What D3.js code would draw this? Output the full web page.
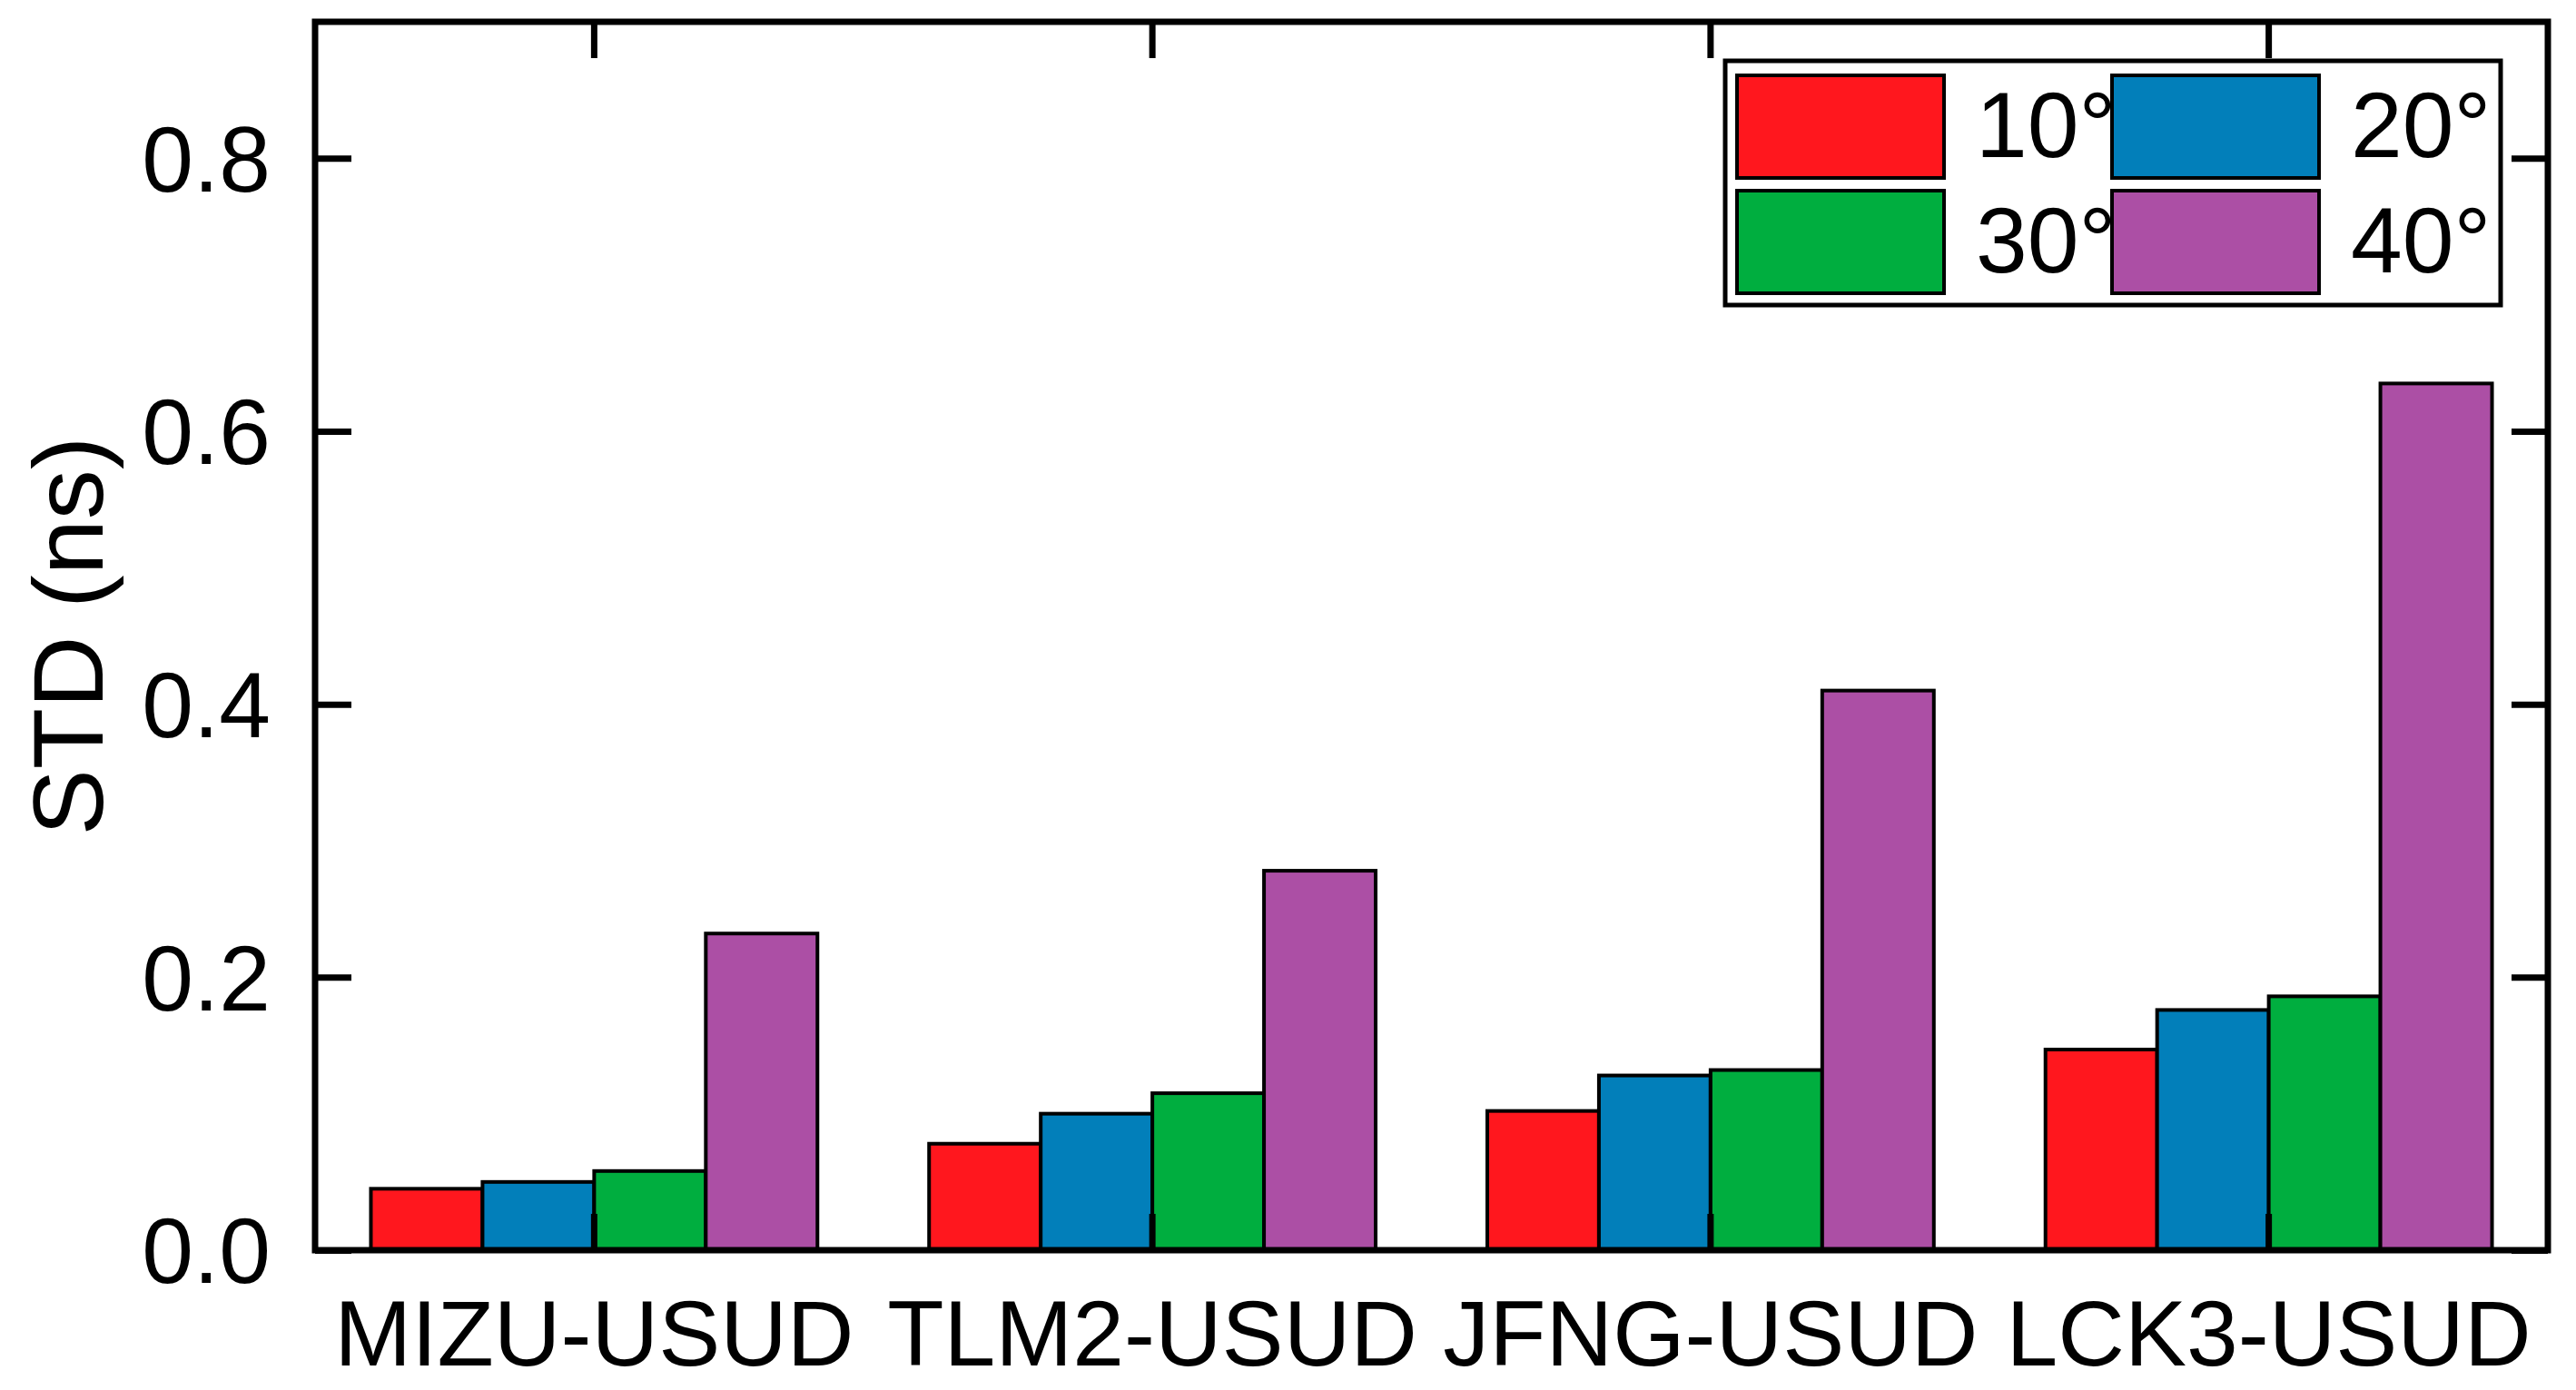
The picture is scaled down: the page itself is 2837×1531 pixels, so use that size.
<!DOCTYPE html>
<html>
<head>
<meta charset="utf-8">
<script src="https://d3js.org/d3.v7.min.js"></script>
<style>
body, html {
    margin: 0;
    padding: 0;
    background: #fff;
    font-family: "Liberation Sans", Arial, sans-serif;
}
.axis text {
  font-family: "Liberation Sans", Arial, sans-serif;
  font-size: 102px;
  fill: #000;
}
.axis line {
  stroke: #000;
  stroke-width: 7;
}
.axis .domain {
  display: none;
}
</style>
</head>
<body>
<div id="chart"></div>
<script>

// station pairs and elevation cut-off angles
var pairs = ["MIZU-USUD", "TLM2-USUD", "JFNG-USUD", "LCK3-USUD"];
var angles = ["10°", "20°", "30°", "40°"];
var colors = ["#ff171e", "#027fba", "#00ae3f", "#ac4fa5"];

// STD (ns) per pair, one array per cut-off angle
var std10 = [0.045, 0.078, 0.102, 0.147];
var std20 = [0.050, 0.100, 0.128, 0.176];
var std30 = [0.058, 0.115, 0.132, 0.186];
var std40 = [0.232, 0.278, 0.410, 0.635];

var yTicks = [0.0, 0.2, 0.4, 0.6, 0.8];

var series = [std10, std20, std30, std40];

var width = 2837,
    height = 1531;
// plot frame (window.top is read-only, so no plain "top" here)
var plotL = 347, plotR = 2806, plotT = 24, plotB = 1377;

var svg = d3.select('#chart').append('svg')
  .attr('width', width)
  .attr('height', height);

var x = d3.scaleBand()
  .domain(pairs)
  .range([plotL, plotR])
  .paddingInner(0.2)
  .paddingOuter(0.1);

var xSub = d3.scaleBand()
  .domain(angles)
  .range([0, x.bandwidth()])
  .padding(0);

var y = d3.scaleLinear()
  .domain([0, 0.9])
  .range([plotB, plotT]);

// bars
var groups = svg.append('g').selectAll('g')
  .data(pairs)
  .enter().append('g')
  .attr('transform', function(d) { return 'translate(' + x(d) + ',0)'; });

groups.selectAll('rect')
  .data(function(d, i) {
    return angles.map(function(a, j) { return {angle: a, value: series[j][i], k: j}; });
  })
  .enter().append('rect')
  .attr('x', function(d) { return xSub(d.angle); })
  .attr('y', function(d) { return y(d.value); })
  .attr('width', xSub.bandwidth())
  .attr('height', function(d) { return y(0) - y(d.value); })
  .attr('fill', function(d) { return colors[d.k]; })
  .attr('stroke', '#000')
  .attr('stroke-width', 4);

// axes, ticks all pointing inward
var fmt = d3.format('.1f');

svg.append('g')
  .attr('class', 'axis')
  .attr('transform', 'translate(' + plotL + ',0)')
  .call(d3.axisLeft(y).tickValues(yTicks).tickFormat(fmt).tickSizeInner(-40).tickSizeOuter(0).tickPadding(49))
  .selectAll('text').attr('dy', '0.35em');

svg.append('g')
  .attr('class', 'axis')
  .attr('transform', 'translate(' + plotR + ',0)')
  .call(d3.axisRight(y).tickValues(yTicks).tickFormat('').tickSizeInner(-40).tickSizeOuter(0));

svg.append('g')
  .attr('class', 'axis')
  .attr('transform', 'translate(0,' + plotB + ')')
  .call(d3.axisBottom(x).tickSizeInner(-40).tickSizeOuter(0).tickPadding(55));

svg.append('g')
  .attr('class', 'axis')
  .attr('transform', 'translate(0,' + plotT + ')')
  .call(d3.axisTop(x).tickFormat('').tickSizeInner(-40).tickSizeOuter(0));

// frame
svg.append('rect')
  .attr('x', plotL)
  .attr('y', plotT)
  .attr('width', plotR - plotL)
  .attr('height', plotB - plotT)
  .attr('fill', 'none')
  .attr('stroke', '#000')
  .attr('stroke-width', 7);

// y label
svg.append('text')
  .attr('transform', 'translate(113,' + ((plotT + plotB) / 2) + ') rotate(-90)')
  .attr('text-anchor', 'middle')
  .style('font-size', '110px')
  .text('STD (ns)');

// legend, 2 x 2
var legend = svg.append('g');
legend.append('rect')
  .attr('x', 1900)
  .attr('y', 67)
  .attr('width', 854)
  .attr('height', 269)
  .attr('fill', '#fff')
  .attr('stroke', '#000')
  .attr('stroke-width', 5);

var items = legend.selectAll('g.item')
  .data(angles)
  .enter().append('g')
  .attr('class', 'item')
  .attr('transform', function(d, i) {
    return 'translate(' + (1913 + (i % 2) * 413) + ',' + (83 + Math.floor(i / 2) * 127) + ')';
  });

items.append('rect')
  .attr('width', 228)
  .attr('height', 113)
  .attr('fill', function(d, i) { return colors[i]; })
  .attr('stroke', '#000')
  .attr('stroke-width', 4);

items.append('text')
  .attr('x', 263)
  .attr('y', 90)
  .style('font-size', '102px')
  .text(function(d) { return d; });

</script>
</body>
</html>
